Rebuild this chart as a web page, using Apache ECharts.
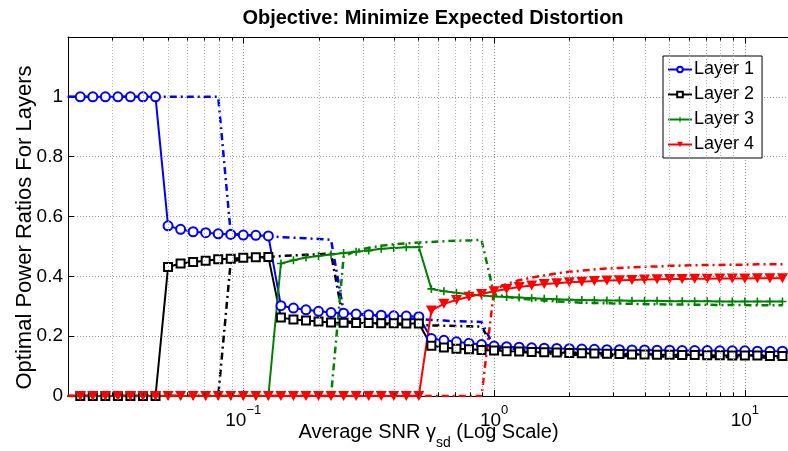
<!DOCTYPE html>
<html>
<head>
<meta charset="utf-8">
<title>Objective: Minimize Expected Distortion</title>
<script src="https://cdn.jsdelivr.net/npm/echarts@6/dist/echarts.min.js"></script>
<style>
    html, body { margin: 0; padding: 0; background: #fff; }
    #chart { width: 788px; height: 451px; }
</style>
</head>
<body>
<div id="chart"></div>
<script>
    // x positions, SNR in dB (plotted on a log axis of the linear SNR)
    var snrDb = [-17, -16.5, -16, -15.5, -15, -14.5, -14, -13.5, -13, -12.5, -12, -11.5, -11, -10.5, -10, -9.5,
        -9, -8.5, -8, -7.5, -7, -6.5, -6, -5.5, -5, -4.5, -4, -3.5, -3, -2.5, -2, -1.5, -1, -0.5, 0, 0.5,
        1, 1.5, 2, 2.5, 3, 3.5, 4, 4.5, 5, 5.5, 6, 6.5, 7, 7.5, 8, 8.5, 9, 9.5, 10, 10.5, 11, 11.5];

    // solid lines with markers
    var layer1 = [1, 1, 1, 1, 1, 1, 1, 1,
        0.569, 0.557, 0.549, 0.546, 0.542, 0.540, 0.538, 0.537, 0.535,
        0.302, 0.294, 0.288, 0.283, 0.279, 0.277, 0.274, 0.272, 0.270, 0.268, 0.267, 0.265,
        0.192, 0.186, 0.181, 0.176, 0.172, 0.167,
        0.165, 0.163, 0.161, 0.160, 0.159, 0.158, 0.157, 0.156, 0.155, 0.155, 0.154, 0.154, 0.153, 0.153,
        0.152, 0.152, 0.152, 0.151, 0.151, 0.151, 0.150, 0.150, 0.150];
    var layer2 = [0, 0, 0, 0, 0, 0, 0, 0,
        0.431, 0.443, 0.448, 0.452, 0.457, 0.459, 0.462, 0.464, 0.465,
        0.262, 0.256, 0.252, 0.249, 0.246, 0.245, 0.244, 0.244, 0.243, 0.243, 0.242, 0.242,
        0.168, 0.162, 0.158, 0.156, 0.154, 0.152,
        0.150, 0.149, 0.147, 0.146, 0.145, 0.144, 0.143, 0.142, 0.141, 0.140, 0.139, 0.139, 0.138, 0.138,
        0.137, 0.137, 0.136, 0.136, 0.135, 0.135, 0.135, 0.134, 0.134];
    var layer3 = [0, 0, 0, 0, 0, 0, 0, 0, 0, 0, 0, 0, 0, 0, 0, 0, 0,
        0.443, 0.454, 0.463, 0.468, 0.473, 0.478, 0.482, 0.486, 0.492, 0.495, 0.497, 0.498,
        0.358, 0.350, 0.345, 0.340, 0.336, 0.333,
        0.331, 0.329, 0.327, 0.325, 0.323, 0.322, 0.321, 0.320, 0.319, 0.319, 0.318, 0.318, 0.318, 0.317,
        0.317, 0.317, 0.317, 0.316, 0.316, 0.316, 0.316, 0.316, 0.316];
    var layer4 = [0, 0, 0, 0, 0, 0, 0, 0, 0, 0, 0, 0, 0, 0, 0, 0, 0, 0, 0, 0, 0, 0, 0, 0, 0, 0, 0, 0, 0,
        0.286, 0.308, 0.321, 0.332, 0.341, 0.350,
        0.358, 0.364, 0.369, 0.374, 0.377, 0.380, 0.382, 0.384, 0.386, 0.387, 0.388, 0.389, 0.390, 0.391,
        0.391, 0.392, 0.392, 0.393, 0.393, 0.393, 0.394, 0.394, 0.394];

    // dash-dot lines (no markers, not in legend)
    var layer1Alt = [1, 1, 1, 1, 1, 1, 1, 1, 1, 1, 1, 1, 1,
        0.542, 0.538, 0.536, 0.534, 0.531, 0.529, 0.527, 0.525, 0.522,
        0.282, 0.275, 0.270, 0.266, 0.262, 0.259, 0.257, 0.254, 0.252, 0.250, 0.249, 0.247,
        0.165, 0.160, 0.156, 0.153, 0.150, 0.148, 0.146, 0.145, 0.144, 0.143, 0.142, 0.141, 0.140, 0.140,
        0.139, 0.139, 0.138, 0.138, 0.137, 0.137, 0.137, 0.136, 0.136, 0.136];
    var layer2Alt = [0, 0, 0, 0, 0, 0, 0, 0, 0, 0, 0, 0, 0,
        0.450, 0.458, 0.462, 0.465, 0.468, 0.470, 0.472, 0.474, 0.476,
        0.250, 0.246, 0.243, 0.241, 0.239, 0.238, 0.237, 0.236, 0.235, 0.234, 0.233, 0.232,
        0.160, 0.152, 0.148, 0.145, 0.142, 0.140, 0.138, 0.137, 0.136, 0.135, 0.134, 0.133, 0.133, 0.132,
        0.132, 0.131, 0.131, 0.130, 0.130, 0.130, 0.129, 0.129, 0.129, 0.128];
    var layer3Alt = [0, 0, 0, 0, 0, 0, 0, 0, 0, 0, 0, 0, 0, 0, 0, 0, 0, 0, 0, 0, 0, 0,
        0.465, 0.487, 0.495, 0.502, 0.507, 0.510, 0.513, 0.515, 0.517, 0.519, 0.520, 0.522,
        0.340, 0.332, 0.326, 0.322, 0.319, 0.316, 0.314, 0.312, 0.311, 0.310, 0.309, 0.308, 0.307, 0.307,
        0.306, 0.306, 0.305, 0.305, 0.304, 0.304, 0.304, 0.303, 0.303, 0.303];
    var layer4Alt = [0, 0, 0, 0, 0, 0, 0, 0, 0, 0, 0, 0, 0, 0, 0, 0, 0, 0, 0, 0, 0, 0, 0, 0, 0, 0, 0, 0, 0,
        0, 0, 0, 0, 0,
        0.355, 0.375, 0.387, 0.396, 0.403, 0.410, 0.415, 0.419, 0.423, 0.426, 0.428, 0.430, 0.432, 0.433,
        0.435, 0.436, 0.437, 0.438, 0.438, 0.439, 0.439, 0.440, 0.440, 0.440];

    var layerNames = ['Layer 1', 'Layer 2', 'Layer 3', 'Layer 4'];
    // minor log grid positions (2..9 x decade)
    var minorGridX = [0.03, 0.04, 0.05, 0.06, 0.07, 0.08, 0.09,
        0.2, 0.3, 0.4, 0.5, 0.6, 0.7, 0.8, 0.9,
        2, 3, 4, 5, 6, 7, 8, 9];

    var FONT = "'Liberation Sans', Arial, Helvetica, sans-serif";

    var toPairs = function (vals) {
        return vals.map(function (v, i) {
            return [Math.pow(10, snrDb[i] / 10), v];
        });
    };

    var minorLines = [];
    minorGridX.forEach(function (v) {
        minorLines.push([{coord: [v, 0]}, {coord: [v, 1.2]}]);
    });
    var minorTicks = [];
    minorGridX.forEach(function (v) {
        minorTicks.push([{coord: [v, 0]}, {coord: [v, 0.012]}]);
        minorTicks.push([{coord: [v, 1.2]}, {coord: [v, 1.188]}]);
    });

    var crossPath = 'path://M4,0H6V4H10V6H6V10H4V6H0V4H4Z';
    var downTri = 'path://M0,0L10,0L5,9Z';

    var solid = function (name, vals, color, symbol, size, empty) {
        return {
            name: name,
            type: 'line',
            data: toPairs(vals),
            z: 4,
            symbol: symbol,
            symbolSize: size,
            showSymbol: true,
            lineStyle: {color: color, width: 2},
            itemStyle: {color: color, borderWidth: empty ? 2 : 0},
            emphasis: {disabled: true}
        };
    };
    var dashed = function (name, vals, color) {
        return {
            name: name,
            type: 'line',
            data: toPairs(vals),
            z: 3,
            symbol: 'none',
            lineStyle: {color: color, width: 2.5, type: [7, 4, 2, 4]},
            emphasis: {disabled: true}
        };
    };

    var expLabel = function (v) {
        var p = Math.log(v) / Math.LN10;
        var r = Math.round(p);
        if (Math.abs(p - r) > 1e-6) return '';
        return '{b|10}{e|' + String(r).replace('-', '\u2212') + '}';
    };

    var series = [
        dashed('Layer 1 alt', layer1Alt, '#0000ff'),
        dashed('Layer 2 alt', layer2Alt, '#000000'),
        dashed('Layer 3 alt', layer3Alt, '#008000'),
        dashed('Layer 4 alt', layer4Alt, '#ff0000'),
        solid(layerNames[0], layer1, '#0000ff', 'emptyCircle', 9, true),
        solid(layerNames[1], layer2, '#000000', 'emptyRect', 8, true),
        solid(layerNames[2], layer3, '#008000', crossPath, 8, false),
        solid(layerNames[3], layer4, '#ff0000', downTri, [11, 10], false)
    ];
    series[0].markLine = {
        silent: true,
        symbol: 'none',
        label: {show: false},
        animation: false,
        lineStyle: {color: '#b0b0b0', width: 1, type: [1, 2]},
        data: minorLines
    };
    series[1].markLine = {
        silent: true,
        symbol: 'none',
        label: {show: false},
        animation: false,
        lineStyle: {color: '#000', width: 1, type: 'solid'},
        data: minorTicks
    };

    var chart = echarts.init(document.getElementById('chart'), null, {renderer: 'canvas'});
    chart.setOption({
        animation: false,
        backgroundColor: '#fff',
        textStyle: {fontFamily: FONT},
        title: {
            text: 'Objective: Minimize Expected Distortion',
            left: 428,
            textAlign: 'center',
            top: 3,
            textStyle: {fontFamily: FONT, fontSize: 20, fontWeight: 'bold', color: '#000'}
        },
        legend: {
            data: layerNames,
            orient: 'vertical',
            left: 663,
            top: 56,
            padding: [3, 8, 3, 4],
            itemGap: 4,
            itemWidth: 24,
            itemHeight: 7,
            backgroundColor: '#fff',
            borderColor: '#000',
            borderWidth: 1,
            textStyle: {fontFamily: FONT, fontSize: 18, lineHeight: 21, color: '#000', padding: [0, 0, 0, -3]}
        },
        grid: {left: 68, right: -1, top: 37, bottom: 55, containLabel: false, outerBoundsMode: 'none'},
        xAxis: [{
            type: 'log',
            logBase: 10,
            min: 0.02,
            max: 15,
            position: 'bottom',
            name: '{n|Average SNR }{g|\u03b3}{s|sd}{n| (Log Scale)}',
            nameLocation: 'middle',
            nameGap: 26,
            nameMoveOverlap: false,
            nameTextStyle: {
                rich: {
                    n: {fontFamily: FONT, fontSize: 20, color: '#000', lineHeight: 28, verticalAlign: 'top'},
                    g: {fontFamily: FONT, fontSize: 20, color: '#000', lineHeight: 28, verticalAlign: 'top'},
                    s: {fontFamily: FONT, fontSize: 14, color: '#000', lineHeight: 14, verticalAlign: 'bottom'}
                }
            },
            axisLine: {show: true, lineStyle: {color: '#000', width: 1}},
            axisTick: {show: true, inside: true, length: 6, lineStyle: {color: '#000'}},
            axisLabel: {
                margin: 8,
                formatter: expLabel,
                showMinLabel: false,
                showMaxLabel: false,
                rich: {
                    b: {fontFamily: FONT, fontSize: 19, color: '#000', lineHeight: 26, verticalAlign: 'bottom'},
                    e: {fontFamily: FONT, fontSize: 13, color: '#000', lineHeight: 13, verticalAlign: 'top'}
                }
            },
            splitLine: {show: true, lineStyle: {color: '#888', width: 1, type: [1, 2]}}
        }, {
            type: 'log',
            logBase: 10,
            min: 0.02,
            max: 15,
            position: 'top',
            axisLine: {show: true, lineStyle: {color: '#000', width: 1}},
            axisTick: {show: true, inside: true, length: 6, lineStyle: {color: '#000'}},
            axisLabel: {show: false},
            splitLine: {show: false}
        }],
        yAxis: [{
            type: 'value',
            min: 0,
            max: 1.2,
            interval: 0.2,
            name: 'Optimal Power Ratios For Layers',
            nameLocation: 'middle',
            nameRotate: 90,
            nameGap: 32,
            nameMoveOverlap: false,
            nameTextStyle: {fontFamily: FONT, fontSize: 22, color: '#000', padding: [0, 22, 0, 0]},
            axisLine: {show: true, lineStyle: {color: '#000', width: 1}},
            axisTick: {show: true, inside: true, length: 6, lineStyle: {color: '#000'}},
            axisLabel: {
                margin: 5,
                fontFamily: FONT,
                fontSize: 19,
                color: '#000',
                formatter: function (v) {
                    return v > 1.01 ? '' : String(Math.round(v * 10) / 10);
                }
            },
            splitLine: {show: true, lineStyle: {color: '#999', width: 1, type: [1, 2]}}
        }],
        series: series
    });
</script>
</body>
</html>
